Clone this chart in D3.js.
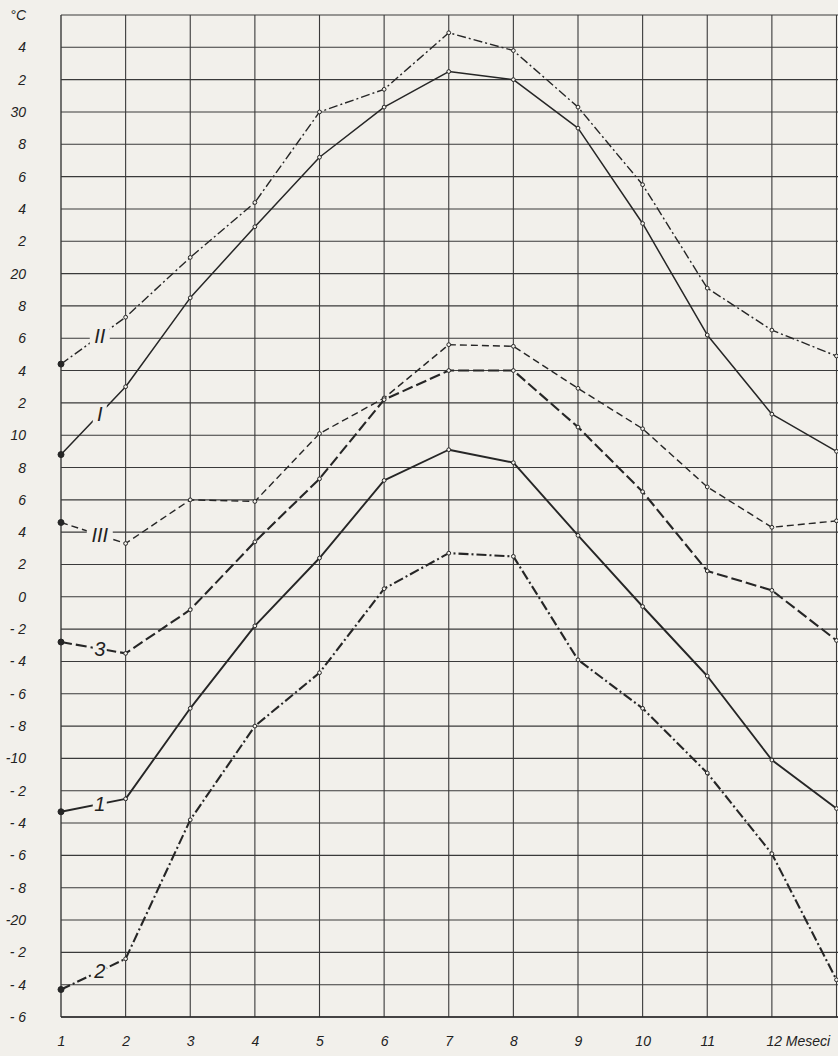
<!DOCTYPE html>
<html>
<head>
<meta charset="utf-8">
<script src="https://cdn.jsdelivr.net/npm/d3@7"></script>
<style>
  html, body { margin: 0; padding: 0; background: #f2f0eb; }
  svg { display: block; }
  text { font-family: "Liberation Sans", "DejaVu Sans", sans-serif; font-style: italic; fill: #222; }
</style>
</head>
<body>
<svg id="chart" width="838" height="1056"></svg>
<script>
// ---- data ----
const months = [1, 2, 3, 4, 5, 6, 7, 8, 9, 10, 11, 12, 13];
const xTickLabels = ["1", "2", "3", "4", "5", "6", "7", "8", "9", "10", "11", "12 Meseci"];
const yTickValues = [36, 34, 32, 30, 28, 26, 24, 22, 20, 18, 16, 14, 12, 10, 8, 6, 4, 2, 0,
                     -2, -4, -6, -8, -10, -12, -14, -16, -18, -20, -22, -24, -26];
const yTickLabels = ["°C", "4", "2", "30", "8", "6", "4", "2", "20", "8", "6", "4", "2", "10", "8", "6", "4", "2", "0",
                     "- 2", "- 4", "- 6", "- 8", "-10", "- 2", "- 4", "- 6", "- 8", "-20", "- 2", "- 4", "- 6"];

const seriesNames = ["II", "I", "III", "3", "1", "2"];
const valuesII  = [14.4, 17.3, 21.0, 24.4, 30.0, 31.4, 34.9, 33.8, 30.3, 25.5, 19.1, 16.5, 14.9];
const valuesI   = [8.8, 13.0, 18.5, 22.9, 27.2, 30.3, 32.5, 32.0, 29.0, 23.1, 16.2, 11.3, 9.0];
const valuesIII = [4.6, 3.3, 6.0, 5.9, 10.1, 12.3, 15.6, 15.5, 12.9, 10.4, 6.8, 4.3, 4.7];
const values3   = [-2.8, -3.5, -0.8, 3.4, 7.3, 12.2, 14.0, 14.0, 10.5, 6.5, 1.6, 0.4, -2.7];
const values1   = [-13.3, -12.5, -6.9, -1.8, 2.4, 7.2, 9.1, 8.3, 3.8, -0.6, -4.9, -10.1, -13.1];
const values2   = [-24.3, -22.4, -13.8, -8.0, -4.7, 0.5, 2.7, 2.5, -3.9, -6.9, -10.9, -15.9, -23.7];

// ---- layout / styles ----
const BG = "#f2f0eb";
const INK = "#262626";
const styles = {
  "II":  { dash: "9,3,2,3", width: 1.4 },
  "I":   { dash: null,      width: 1.5 },
  "III": { dash: "7,4",     width: 1.4 },
  "3":   { dash: "11,4",    width: 2.1 },
  "1":   { dash: null,      width: 1.9 },
  "2":   { dash: "10,3,2,3", width: 2.1 }
};
const seriesValues = [valuesII, valuesI, valuesIII, values3, values1, values2];

const svg = d3.select("#chart");
svg.append("rect").attr("width", 838).attr("height", 1056).attr("fill", BG);

const x = d3.scaleLinear().domain([1, 13]).range([61, 836.5]);
const y = d3.scaleLinear().domain([-26, 36]).range([1017, 15]);

// grid
const grid = svg.append("g");
grid.selectAll("line.h").data(yTickValues).enter().append("line")
  .attr("x1", x(1)).attr("x2", 838)
  .attr("y1", d => y(d)).attr("y2", d => y(d))
  .attr("stroke", "#3a3a3a").attr("stroke-width", 1.1);
grid.selectAll("line.v").data(months).enter().append("line")
  .attr("x1", d => x(d)).attr("x2", d => x(d))
  .attr("y1", y(36)).attr("y2", y(-26))
  .attr("stroke", "#3a3a3a").attr("stroke-width", d => d === 1 ? 1.4 : 1.1);
grid.append("line").attr("x1", x(1)).attr("x2", 838).attr("y1", y(-26)).attr("y2", y(-26))
  .attr("stroke", "#2a2a2a").attr("stroke-width", 1.5);

// y axis labels
const yAxis = d3.axisLeft(y).tickValues(yTickValues)
  .tickFormat((d, i) => yTickLabels[i]).tickSize(0).tickPadding(0);
const yg = svg.append("g").attr("transform", "translate(26,0)").call(yAxis);
yg.select(".domain").remove();
yg.selectAll("text").attr("font-size", 14).attr("font-style", "italic")
  .attr("font-family", "'Liberation Sans', sans-serif").attr("fill", "#222");

// x axis labels
const xAxis = d3.axisBottom(x).tickValues(months.slice(0, 12))
  .tickFormat((d, i) => xTickLabels[i]).tickSize(0).tickPadding(0);
const xg = svg.append("g").attr("transform", "translate(0,1036)").call(xAxis);
xg.select(".domain").remove();
xg.selectAll("text").attr("font-size", 14).attr("font-style", "italic")
  .attr("font-family", "'Liberation Sans', sans-serif").attr("fill", "#222")
  .attr("text-anchor", (d, i) => i === 11 ? "start" : "middle")
  .attr("dx", (d, i) => i === 11 ? -6 : 0);

// lines
const line = d3.line().x((d, i) => x(months[i])).y(d => y(d));
seriesNames.forEach((name, k) => {
  const vals = seriesValues[k];
  const st = styles[name];
  const g = svg.append("g");
  g.append("path").datum(vals).attr("d", line)
    .attr("fill", "none").attr("stroke", INK)
    .attr("stroke-width", st.width)
    .attr("stroke-dasharray", st.dash)
    .attr("stroke-linejoin", "round");
  // vertex markers
  g.selectAll("circle").data(vals).enter().append("circle")
    .attr("cx", (d, i) => x(months[i])).attr("cy", d => y(d))
    .attr("r", (d, i) => i === 0 ? 3 : 1.9)
    .attr("fill", (d, i) => i === 0 ? INK : BG)
    .attr("stroke", INK).attr("stroke-width", 1);
  // series label, breaking the first segment
  const t = 0.6;
  const lx = x(months[0]) + t * (x(months[1]) - x(months[0]));
  const ly = y(vals[0]) + t * (y(vals[1]) - y(vals[0]));
  const lw = name.length * 6 + 8;
  g.append("rect").attr("x", lx - lw / 2).attr("y", ly - 9).attr("width", lw).attr("height", 18)
    .attr("fill", BG);
  g.append("text").attr("x", lx).attr("y", ly + 7)
    .attr("text-anchor", "middle").attr("font-size", 20).attr("font-style", "italic")
    .text(name);
});
</script>
</body>
</html>
